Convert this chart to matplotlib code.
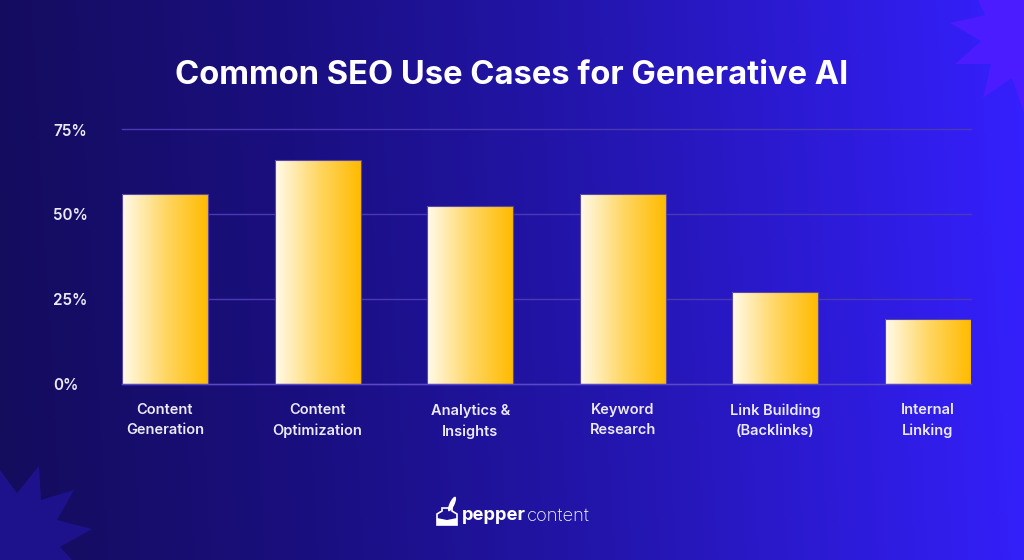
import numpy as np
import matplotlib
matplotlib.use('Agg')
import matplotlib.pyplot as plt
from matplotlib.colors import LinearSegmentedColormap
from matplotlib.patches import Polygon, Ellipse

categories = ['Content\nGeneration', 'Content\nOptimization', 'Analytics &\nInsights',
              'Keyword\nResearch', 'Link Building\n(Backlinks)', 'Internal\nLinking']
values = [56, 66, 52.5, 56, 27, 19.2]
ticks = [0, 25, 50, 75]
tick_labels = ['0%', '25%', '50%', '75%']
title = 'Common SEO Use Cases for Generative AI'

plt.rcParams['font.family'] = ['Inter', 'DejaVu Sans']
W, H = 1024, 560
bar_w = 0.5635

fig = plt.figure(figsize=(W/100, H/100), dpi=100)

# background, full figure in pixel coords (y down)
bg = fig.add_axes([0, 0, 1, 1], zorder=0)
bg.set_xlim(0, W)
bg.set_ylim(H, 0)
bg.axis('off')
bg_cmap = LinearSegmentedColormap.from_list('bg', [(0, '#140c5c'), (0.3, '#1a0f80'),
                                                  (0.6, '#2416b0'), (1, '#3520ff')])
xx, yy = np.meshgrid(np.linspace(0, 1, 512), np.linspace(0, 1, 64))
bg.imshow(xx*0.97 + (1-yy)*0.03, cmap=bg_cmap, extent=[0, W, H, 0], aspect='auto', vmin=0, vmax=1)

# corner stars
star1 = [(978, 0), (985, 15), (950, 23), (981, 41), (955, 64), (991, 64), (983, 98),
         (1012, 78), (1024, 113), (1024, 0)]
star2 = [(0, 470), (17, 493), (39, 466), (41, 500), (74, 490), (57, 520), (92, 529),
         (60, 547), (72, 560), (0, 560)]
bg.add_patch(Polygon(star1, closed=True, color='#4a1cff', lw=0))
bg.add_patch(Polygon(star2, closed=True, color='#1e128c', lw=0))

# logo
bg.add_patch(Polygon([(437, 525), (437, 514), (442, 511), (442, 508), (452, 508), (452, 511),
                      (457, 514), (457, 525)], closed=True, fc='none', ec='white', lw=1.2))
bg.add_patch(Polygon([(437, 525), (437, 518), (447, 520), (457, 518), (457, 525)], closed=True, color='white', lw=0))
bg.add_patch(Ellipse((452, 504), 5, 16, angle=25, color='white', lw=0))
t = bg.text(462, 516, 'pepper', color='white', fontsize=13.2, fontweight='bold', va='center', ha='left')
fig.canvas.draw()
ext = t.get_window_extent()
bg.text(ext.x1 + 0.5, 516, 'content', color='white', fontsize=13.2, fontweight='light', va='center', ha='left')

bg.text(512, 75, title, color='white', fontsize=23.5, fontweight='bold', ha='center', va='center')

# chart
ax = fig.add_axes([122/W, 1-384/H, (971-122)/W, (384-129.5)/H], zorder=1)
ax.patch.set_alpha(0)
ax.set_xlim(-bar_w/2, 5+bar_w/2)
ax.set_ylim(0, 75)
for s in ['top', 'right', 'left']:
    ax.spines[s].set_visible(False)
ax.spines['bottom'].set_color('#5a48c8')
ax.spines['bottom'].set_linewidth(1)
ax.grid(axis='y', color='#4a38b4', lw=1, clip_on=False)
ax.set_axisbelow(True)
ax.set_yticks(ticks, tick_labels)
ax.set_xticks(range(len(categories)), categories)
ax.tick_params(length=0)
ax.tick_params(axis='y', colors='#eceaf6', labelsize=11, pad=49.7)
ax.tick_params(axis='x', colors='#eceaf6', labelsize=10.5, pad=14)
for lab in ax.get_yticklabels():
    lab.set_fontweight('semibold')
    lab.set_ha('left')
for lab in ax.get_xticklabels():
    lab.set_fontweight('semibold')
    lab.set_linespacing(1.55)
for gl in ax.get_ygridlines():
    gl.set_clip_on(False)

bar_cmap = LinearSegmentedColormap.from_list('bar', ['#fffaea', '#ffd766', '#ffbb00'])
grad = np.linspace(0, 1, 128).reshape(1, -1)
bars = ax.bar(range(len(values)), values, bar_w, color='none', edgecolor='#5a48a8', lw=0.8, zorder=3)
for b in bars:
    im = ax.imshow(grad, cmap=bar_cmap, aspect='auto', zorder=2.5, interpolation='bilinear',
                   extent=[b.get_x(), b.get_x()+b.get_width(), 0, 75])
    im.set_clip_path(b)
ax.set_xlim(-bar_w/2, 5+bar_w/2)
ax.set_ylim(0, 75)

fig.savefig('out.png', dpi=100)
